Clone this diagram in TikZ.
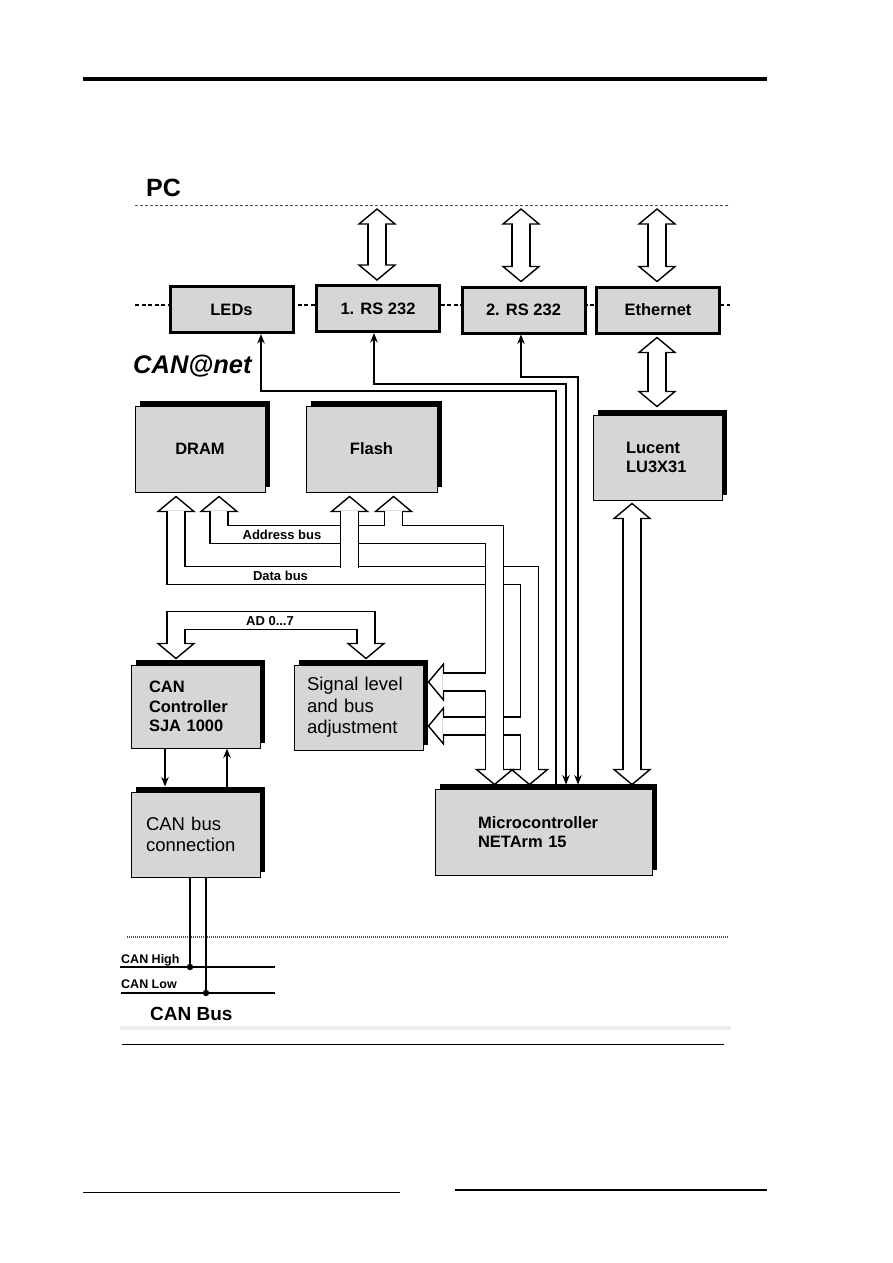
\documentclass[tikz,border=0pt]{standalone}
\usepackage{fontspec}
\setmainfont{Liberation Sans}
\usetikzlibrary{arrows.meta,calc,shadows}
\definecolor{BoxGray}{RGB}{214,214,214}
\definecolor{BandGray}{RGB}{236,236,236}
\definecolor{DashGray}{RGB}{80,80,80}
\newcommand{\boldtxt}{\bfseries\fontsize{16.5}{19.5}\selectfont}
\newcommand{\plaintxt}{\fontsize{18.5}{21.5}\selectfont}
\tikzset{
  port/.style={draw=black, line width=3pt, fill=BoxGray, inner sep=0pt,
    minimum width=123pt, minimum height=46pt, font=\boldtxt},
  unit/.style={draw=black, line width=1pt, fill=BoxGray, inner sep=0pt,
    drop shadow={shadow xshift=5pt, shadow yshift=5pt, opacity=1, fill=black}},
  wire/.style={line width=1.3pt, draw=black},
  busout/.style={line width=19.4pt, draw=black, line join=miter},
  busin/.style={line width=16.6pt, draw=white, line join=miter},
  bushd/.style={draw=black, fill=white, line width=1.4pt, line join=miter},
  buslbl/.style={font=\bfseries\fontsize{13}{15}\selectfont, inner sep=0pt},
  canline/.style={line width=2pt, draw=black},
}
\newcommand{\bushead}[2]{%
  % #1=tip coordinate, #2=direction
  \draw[bushd, shift={(#1)}, rotate=#2] (0,0) -- (-15,18) -- (-15,-18) -- cycle;}

\begin{document}
\begin{tikzpicture}[x=1pt, y=-1pt, >={Stealth[length=9.5pt,width=7.5pt]}]
\fill[white] (0,0) rectangle (893,1263);
\useasboundingbox (0,0) rectangle (893,1263);

% ---- Page rules ----
\draw[line width=3.5pt] (83,79) -- (767,79);
\draw[BandGray, line width=4pt] (120,1028) -- (731,1028);
\draw[line width=1pt] (122,1044) -- (724,1044);
\draw[line width=1.8pt] (83,1192.5) -- (400,1192.5);
\draw[line width=1.8pt] (455,1190) -- (767,1190);

% ---- PC side ----
\node[anchor=base west, inner sep=0pt, font=\bfseries\fontsize{25}{30}\selectfont] (pc) at (146,196) {PC};
\draw[DashGray, line width=1pt, dash pattern=on 3pt off 2pt] (135,205) -- (730,205);
\draw[black, line width=1.2pt, dash pattern=on 4pt off 2.5pt] (135,305) -- (730,305);

% ---- Interfaces ----
\node[port] (leds) at (231.5,309.5) {LEDs};
\node[port] (rsone) at (378,308.5) {1. RS 232};
\node[port] (rstwo) at (523.5,310) {2. RS 232};
\node[port] (eth) at (658,310) {Ethernet};

\node[anchor=base west, inner sep=0pt, font=\bfseries\itshape\fontsize{25.5}{30}\selectfont] (canet) at (133,373) {CAN@net};

% ---- Units ----
\node[unit, minimum width=130pt, minimum height=86pt, font=\boldtxt] (dram) at (200,449) {DRAM};
\node[unit, minimum width=131pt, minimum height=86pt, font=\boldtxt] (flash) at (371.5,449) {Flash};
\node[unit, text width=63pt, inner xsep=33pt, minimum height=85pt, align=left, font=\boldtxt] (lucent) at (657.5,457.5) {Lucent\\LU3X31};
\node[unit, text width=93pt, inner xsep=18pt, minimum height=83pt, align=left, font=\boldtxt] (ctrl) at (195.5,706.5) {CAN\\Controller\\SJA 1000};
\node[unit, text width=103pt, inner xsep=13pt, minimum height=85pt, align=left, font=\plaintxt] (sig) at (358.5,707.5) {Signal level\\and bus\\adjustment};
\node[unit, text width=99pt, inner xsep=15pt, minimum height=85pt, align=left, font=\plaintxt] (canbus) at (195.5,834.5) {CAN bus\\connection};
\node[unit, text width=131pt, inner xsep=43pt, minimum height=86pt, align=left, font=\boldtxt] (micro) at (543.5,832) {Microcontroller\\NETArm 15};

% ---- LED / serial wires ----
\coordinate (ledA) at (261,391);   \coordinate (ledB) at (556,391);
\coordinate (rsoneA) at (374,384); \coordinate (rsoneB) at (566,384);
\coordinate (rstwoA) at (521,377); \coordinate (rstwoB) at (578,377);
\draw[wire,->] (micro.north -| ledB) -- (ledB) -- (ledA) -- (leds.south -| ledA);
\draw[wire,<->,shorten <=4pt] (micro.north -| rsoneB) -- (rsoneB) -- (rsoneA) -- (rsone.south -| rsoneA);
\draw[wire,<->,shorten <=4pt] (micro.north -| rstwoB) -- (rstwoB) -- (rstwoA) -- (rstwo.south -| rstwoA);

% ---- CAN controller wires ----
\draw[wire,->,shorten >=5pt] ($(ctrl.south)+(-30.5,0)$) -- ($(canbus.north)+(-30.5,0)$);
\draw[wire,->] ($(canbus.north)+(31.5,-5)$) -- ($(ctrl.south)+(31.5,0)$);

% ---- Bus tips ----
\coordinate (dramD) at ($(dram.south)+(-24,4)$);
\coordinate (dramA) at ($(dram.south)+(19,4)$);
\coordinate (flashD) at ($(flash.south)+(-22,4)$);
\coordinate (flashA) at ($(flash.south)+(22,4)$);
\coordinate (microA) at ($(micro.north)+(-49,-4)$);
\coordinate (microD) at ($(micro.north)+(-14,-4)$);
\coordinate (sigA) at ($(sig.east)+(5,-25.5)$);
\coordinate (sigD) at ($(sig.east)+(5,18.5)$);
\coordinate (ctrlAD) at ($(ctrl.north)+(-19.5,-6)$);
\coordinate (sigAD) at ($(sig.north)+(7.5,-6)$);
\coordinate (dbus) at (529.5,575.5);
\coordinate (abus) at (494.5,534.5);

% ---- Data bus ----
\draw[busout, shorten <=15pt, shorten >=15pt] (dramD) |- (dbus) -- (microD);
\draw[busout, shorten <=15pt] (sigD) -- (sigD -| dbus);
\bushead{dramD}{90}
\bushead{microD}{-90}
\bushead{sigD}{180}
\draw[busin, shorten <=14pt, shorten >=14pt] (dramD) |- (dbus) -- (microD);
\draw[busin, shorten <=14pt] (sigD) -- (sigD -| dbus);

% ---- Address bus ----
\draw[busout, shorten <=15pt, shorten >=15pt] (dramA) |- (abus) -- (microA);
\draw[busout, shorten <=15pt] (flashA) -- (flashA |- abus);
\draw[busout, shorten <=15pt] (sigA) -- (sigA -| abus);
\bushead{dramA}{90}
\bushead{flashA}{90}
\bushead{microA}{-90}
\bushead{sigA}{180}
\draw[busin, shorten <=14pt, shorten >=14pt] (dramA) |- (abus) -- (microA);
\draw[busin, shorten <=14pt] (flashA) -- (flashA |- abus);
\draw[busin, shorten <=14pt] (sigA) -- (sigA -| abus);

% ---- Flash data branch ----
\draw[busout, shorten <=15pt, shorten >=8pt] (flashD) -- (flashD |- dbus);
\bushead{flashD}{90}
\draw[busin, shorten <=14pt] (flashD) -- (flashD |- dbus);

% ---- AD 0...7 ----
\draw[busout, shorten <=15pt, shorten >=15pt] (ctrlAD) -- ++(0,-38) -| (sigAD);
\bushead{ctrlAD}{-90}
\bushead{sigAD}{-90}
\draw[busin, shorten <=14pt, shorten >=14pt] (ctrlAD) -- ++(0,-38) -| (sigAD);

% ---- Wide double arrows ----
\coordinate (pcOne) at (377,209);
\coordinate (pcTwo) at (521,209);
\coordinate (pcThree) at (657,209);
\foreach \a/\b in {pcOne/rsone, pcTwo/rstwo, pcThree/eth}{
  \draw[busout, shorten <=14pt, shorten >=14pt] (\a) -- ($(\b.north -| \a)+(0,-4)$);
  \bushead{\a}{90}
  \bushead{$(\b.north -| \a)+(0,-4)$}{-90}
  \draw[busin, shorten <=13pt, shorten >=13pt] (\a) -- ($(\b.north -| \a)+(0,-4)$);
}
\coordinate (ethL) at ($(eth.south)+(-1,3)$);
\coordinate (lucT) at ($(lucent.north)+(-0.5,-8)$);
\coordinate (lucB) at ($(lucent.south)+(-25.5,3)$);
\coordinate (micL) at ($(micro.north)+(88.5,-4)$);
\draw[busout, shorten <=14pt, shorten >=14pt] (ethL) -- (lucT);
\draw[busout, shorten <=14pt, shorten >=14pt] (lucB) -- (micL);
\bushead{ethL}{90}
\bushead{lucT}{-90}
\bushead{lucB}{90}
\bushead{micL}{-90}
\draw[busin, shorten <=13pt, shorten >=13pt] (ethL) -- (lucT);
\draw[busin, shorten <=13pt, shorten >=13pt] (lucB) -- (micL);

% ---- Bus labels ----
\node[buslbl] (addrlbl) at (282,534.5) {Address bus};
\node[buslbl] (datalbl) at (280.5,575.5) {Data bus};
\node[buslbl] (adlbl) at (270,621) {AD 0...7};

% ---- CAN bus ----
\draw[DashGray, line width=1.2pt, dash pattern=on 1pt off 1pt] (127,937) -- (729,937);
\coordinate (hiTap) at (190,967);
\coordinate (loTap) at (206,993);
\draw[canline] ($(canbus.south)+(-5.5,0)$) -- (hiTap);
\draw[canline] ($(canbus.south)+(10.5,0)$) -- (loTap);
\draw[canline] (120,967) -- (275,967);
\draw[canline] (121,993) -- (275,993);
\fill (hiTap) circle[radius=3.2pt];
\fill (loTap) circle[radius=3.2pt];
\node[anchor=base west, inner sep=0pt, font=\bfseries\fontsize{12.5}{14}\selectfont] (highlbl) at (121,963) {CAN High};
\node[anchor=base west, inner sep=0pt, font=\bfseries\fontsize{12.5}{14}\selectfont] (lowlbl) at (121,988.5) {CAN Low};
\node[anchor=base west, inner sep=0pt, font=\bfseries\fontsize{19}{22}\selectfont] (busname) at (150,1020) {CAN Bus};

\end{tikzpicture}
\end{document}
